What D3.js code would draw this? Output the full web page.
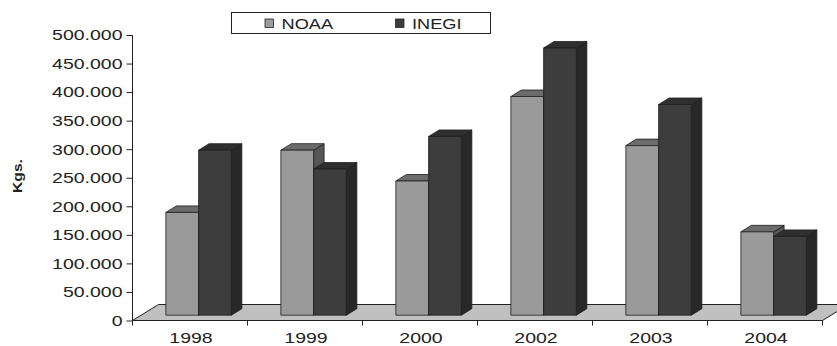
<!DOCTYPE html>
<html>
<head>
<meta charset="utf-8">
<script src="https://cdn.jsdelivr.net/npm/d3@7"></script>
<style>
  html, body { margin: 0; padding: 0; background: #fff; }
  svg { display: block; font-family: "Liberation Sans", Arial, sans-serif; }
</style>
</head>
<body>
<svg id="chart" width="837" height="346"></svg>
<script>
// Annual catch by source (kg)
const years = ["1998", "1999", "2000", "2002", "2003", "2004"];
const seriesNames = ["NOAA", "INEGI"];
const noaa  = [180000, 289000, 235000, 383000, 297000, 146000];
const inegi = [289000, 256000, 313000, 468000, 369000, 138000];
const yTicks = [0, 50000, 100000, 150000, 200000, 250000, 300000, 350000, 400000, 450000, 500000];

const values = { NOAA: noaa, INEGI: inegi };
const faces = {
  NOAA:  { front: "#9a9a9a", top: "#6c6c6c", side: "#565656" },
  INEGI: { front: "#3d3d3d", top: "#2f2f2f", side: "#282828" }
};

const svg = d3.select("#chart");
const stretch = 1.3;          // wide lettering
const plot = { left: 132.5, right: 822.5, bottom: 320.5, top: 35 };
const floorDX = 26, floorDY = -16;          // depth of the floor
const barShiftX = 8.6, barShiftY = -5.3;    // bars sit a third of the way back
const barDX = 10.5, barDY = -6.5;           // depth of each column

const x = d3.scaleBand().domain(years).range([plot.left, plot.right]).padding(0);
const groupWidth = 65.5;
const xs = d3.scaleBand().domain(seriesNames).range([0, groupWidth]).padding(0);
const y = d3.scaleLinear().domain([0, 500000]).range([plot.bottom, plot.top]);

const fmt = d3.formatLocale({ decimal: ",", thousands: ".", grouping: [3], currency: ["", ""] }).format(",");

// floor
const fl = plot.left, fr = plot.right, fb = plot.bottom;
svg.append("path")
  .attr("d", `M${fl},${fb} L${fl + floorDX},${fb + floorDY} L${fr + floorDX},${fb + floorDY} L${fr},${fb} Z`)
  .attr("fill", "#c0c0c0")
  .attr("stroke", "#222")
  .attr("stroke-width", 1);

// columns
const bars = svg.append("g");
years.forEach((yr, i) => {
  seriesNames.forEach(s => {
    const v = values[s][i];
    const x0 = x(yr) + (x.bandwidth() - groupWidth) / 2 + barShiftX + xs(s);
    const x1 = x0 + xs.bandwidth();
    const yb = y(0) + barShiftY;
    const yt = y(v) + barShiftY;
    const c = faces[s];
    const g = bars.append("g").attr("stroke", "#1e1e1e").attr("stroke-width", 0.8).attr("stroke-linejoin", "round");
    // side
    g.append("path")
      .attr("d", `M${x1},${yb} L${x1 + barDX},${yb + barDY} L${x1 + barDX},${yt + barDY} L${x1},${yt} Z`)
      .attr("fill", c.side);
    // top
    g.append("path")
      .attr("d", `M${x0},${yt} L${x0 + barDX},${yt + barDY} L${x1 + barDX},${yt + barDY} L${x1},${yt} Z`)
      .attr("fill", c.top);
    // front
    g.append("rect")
      .attr("x", x0).attr("y", yt)
      .attr("width", x1 - x0).attr("height", yb - yt)
      .attr("fill", c.front);
  });
});

// value axis
const yAxis = svg.append("g")
  .attr("transform", `translate(${plot.left},0)`)
  .call(d3.axisLeft(y).tickValues(yTicks).tickFormat(fmt).tickSize(6).tickPadding(4));
yAxis.select(".domain").attr("stroke", "#222").attr("d", `M0,${plot.top}V${plot.bottom}`);
yAxis.selectAll(".tick line").attr("stroke", "#222");
yAxis.selectAll(".tick text")
  .attr("font-size", 15)
  .attr("fill", "#222")
  .attr("x", -10 / stretch)
  .attr("transform", `scale(${stretch},1)`);

// category axis
const xAxis = svg.append("g")
  .attr("transform", `translate(0,${plot.bottom})`);
xAxis.append("line")
  .attr("x1", plot.left).attr("x2", plot.right)
  .attr("stroke", "#222");
xAxis.selectAll("line.tk")
  .data(years.map(d => x(d)).concat([plot.right]))
  .join("line")
  .attr("class", "tk")
  .attr("x1", d => d).attr("x2", d => d)
  .attr("y1", 0).attr("y2", 5)
  .attr("stroke", "#222");
xAxis.selectAll("text")
  .data(years)
  .join("text")
  .attr("transform", d => `translate(${x(d) + x.bandwidth() / 2 + 1},22.5) scale(${stretch},1)`)
  .attr("text-anchor", "middle")
  .attr("font-size", 15)
  .attr("fill", "#222")
  .text(d => d);

// axis title
svg.append("text")
  .attr("transform", `translate(22,176) rotate(-90) scale(1.25,1)`)
  .attr("text-anchor", "middle")
  .attr("font-size", 12.5)
  .attr("font-weight", "bold")
  .attr("fill", "#222")
  .text("Kgs.");

// legend
const legend = svg.append("g");
legend.append("rect")
  .attr("x", 231.5).attr("y", 12.5)
  .attr("width", 259).attr("height", 21)
  .attr("fill", "#fff").attr("stroke", "#222").attr("stroke-width", 1);
const legendPos = { NOAA: 265, INEGI: 395.5 };
seriesNames.forEach(s => {
  legend.append("rect")
    .attr("x", legendPos[s]).attr("y", 19)
    .attr("width", 8.5).attr("height", 8.5)
    .attr("fill", faces[s].front).attr("stroke", "#222").attr("stroke-width", 0.8);
  legend.append("text")
    .attr("transform", `translate(${legendPos[s] + 16.5},28.5) scale(${stretch},1)`)
    .attr("font-size", 14)
    .attr("fill", "#222")
    .text(s);
});
</script>
</body>
</html>
